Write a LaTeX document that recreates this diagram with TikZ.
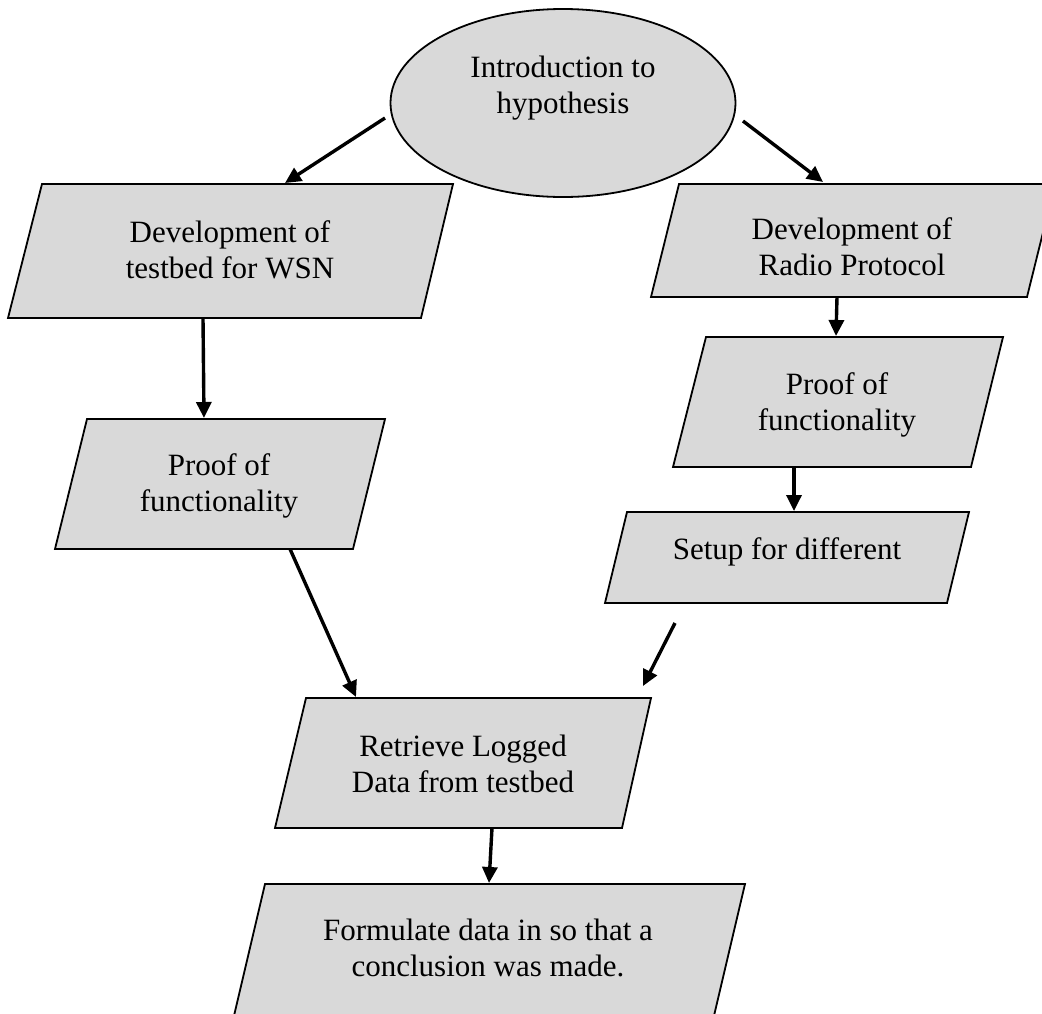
\documentclass[tikz,border=0pt]{standalone}
\usepackage{fontspec}
\setmainfont{Liberation Serif}
\usetikzlibrary{arrows.meta,shapes.geometric}
\definecolor{boxgray}{HTML}{D9D9D9}
\begin{document}
\begin{tikzpicture}[x=1pt,y=-1pt,
  shapebox/.style={fill=boxgray,draw=black,line width=1.8pt,line join=miter},
  boxtext/.style={align=center,inner sep=0pt,font=\fontsize{31}{36}\selectfont},
  flow/.style={line width=3.4pt,-{Triangle[length=16pt,width=15pt]}}]
\useasboundingbox (0,0) rectangle (1042,1013);
\clip (0,0) rectangle (1042,1013);

% start ellipse
\node[shapebox,ellipse,minimum width=345pt,minimum height=188pt,inner sep=0pt] (intro) at (563,103) {};
\node[boxtext] (introtext) at (563,88) {Introduction to\\hypothesis};

% parallelogram steps
\draw[shapebox] (42,184) -- (453,184) -- (421,318) -- (8,318) -- cycle;
\node[boxtext] (devwsn) at (230,250) {Development of\\testbed for WSN};

\draw[shapebox] (679,184) -- (1055,184) -- (1027,297) -- (651,297) -- cycle;
\node[boxtext] (devradio) at (852,247) {Development of\\Radio Protocol};

\draw[shapebox] (706,337) -- (1003,337) -- (971,467) -- (673,467) -- cycle;
\node[boxtext] (proofradio) at (837,405) {Proof of\\functionality};

\draw[shapebox] (87,419) -- (385,419) -- (353,549) -- (55,549) -- cycle;
\node[boxtext] (proofwsn) at (219,486) {Proof of\\functionality};

\draw[shapebox] (627,512) -- (969,512) -- (947,603) -- (605,603) -- cycle;
\node[boxtext] (setup) at (787,552) {Setup for different};

\draw[shapebox] (306,698) -- (651,698) -- (622,828) -- (275,828) -- cycle;
\node[boxtext] (retrieve) at (463,764) {Retrieve Logged\\Data from testbed};

\draw[shapebox] (265,884) -- (745,884) -- (713,1020) -- (233,1020) -- cycle;
\node[boxtext] (formulate) at (488,948) {Formulate data in so that a\\conclusion was made.};

% connector end points
\coordinate (introL) at (385,118);
\coordinate (devwsnT) at (285,183);
\coordinate (introR) at (743,121);
\coordinate (devradioT) at (823,182);
\coordinate (devwsnB) at (203,318);
\coordinate (proofwsnT) at (204,418);
\coordinate (devradioB) at (837,297);
\coordinate (proofradioT) at (836,336);
\coordinate (proofradioB) at (794,467);
\coordinate (setupT) at (794,511);
\coordinate (proofwsnB) at (290,549);
\coordinate (retrieveTL) at (356,697);
\coordinate (setupB) at (675,623);
\coordinate (retrieveTR) at (643,686);
\coordinate (retrieveB) at (492,828);
\coordinate (formulateT) at (489,883);

% connectors
\draw[flow] (introL) -- (devwsnT);
\draw[flow] (introR) -- (devradioT);
\draw[flow] (devwsnB) -- (proofwsnT);
\draw[flow] (devradioB) -- (proofradioT);
\draw[flow] (proofradioB) -- (setupT);
\draw[flow] (proofwsnB) -- (retrieveTL);
\draw[flow] (setupB) -- (retrieveTR);
\draw[flow] (retrieveB) -- (formulateT);
\end{tikzpicture}
\end{document}
